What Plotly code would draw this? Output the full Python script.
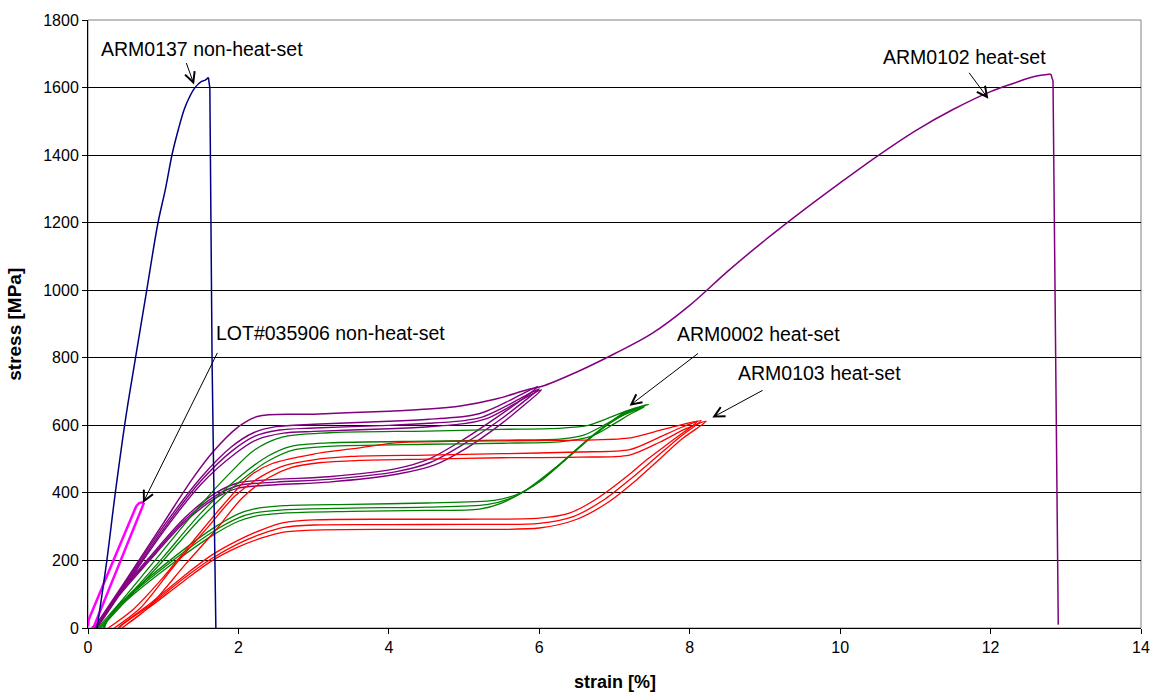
import plotly.graph_objects as go

# ---------------- data (strain [%], stress [MPa]) ----------------
# ARM0137 non-heat-set (monotonic to failure)
arm0137_x = [0.12, 0.25, 0.36, 0.50, 0.62, 0.78, 0.93, 1.03, 1.12, 1.20, 1.28, 1.35, 1.42, 1.51, 1.56, 1.60, 1.62, 1.65, 1.70]
arm0137_y = [0, 199, 395, 620, 784, 999, 1199, 1300, 1404, 1475, 1536, 1572, 1599, 1618, 1622, 1630, 1599, 784, 0]
arm0137_peak = 15  # index of the last point before fracture

# LOT#035906 non-heat-set (small loop)
lot_x = [0.00, 0.01, 0.30, 0.50, 0.64, 0.68, 0.72, 0.74, 0.60, 0.40, 0.25, 0.12, 0.08, 0.05]
lot_y = [5, 25, 180, 285, 360, 370, 372, 368, 290, 179, 96, 24, 5, 0]

# ARM0102 heat-set: final loading to failure
arm0102_final_x = [0.08, 0.50, 1.00, 1.40, 1.66, 1.99, 2.25, 3.00, 4.00, 4.53, 4.97, 5.41, 5.85, 6.07, 6.50, 7.00,
                   7.50, 8.00, 8.50, 9.00, 9.50, 10.00, 10.50, 11.00, 11.50, 12.00, 12.30, 12.57, 12.80, 12.83, 12.90]
arm0102_final_y = [0, 140, 310, 445, 521, 594, 626, 633, 642, 648, 658, 677, 706, 718, 758, 812,
                   872, 955, 1055, 1148, 1235, 1318, 1398, 1472, 1535, 1588, 1612, 1632, 1640, 1620, 10]
arm0102_peak = 28
# ARM0102 heat-set: load/unload cycles
arm0102_c1_x = [0.10, 0.50, 1.00, 1.50, 1.90, 2.20, 2.50, 3.00, 4.00, 4.53, 5.00, 5.25, 5.50, 5.75, 5.98,
                5.76, 5.41, 4.97, 4.53, 4.10, 3.20, 2.50, 2.00, 1.70, 1.28, 0.80, 0.40, 0.15, 0.12]
arm0102_c1_y = [0, 135, 300, 445, 535, 578, 596, 603, 612, 618, 626, 638, 662, 690, 715,
                675, 620, 555, 500, 472, 448, 440, 430, 400, 325, 205, 100, 15, 0]
arm0102_c2_x = [0.11, 0.50, 1.00, 1.50, 1.92, 2.22, 2.55, 3.00, 4.00, 4.53, 5.00, 5.25, 5.50, 5.75, 6.00,
                5.78, 5.45, 5.00, 4.55, 4.10, 3.20, 2.50, 2.00, 1.70, 1.28, 0.80, 0.40, 0.15, 0.13]
arm0102_c2_y = [0, 130, 292, 435, 525, 568, 586, 592, 600, 606, 614, 625, 650, 680, 708,
                668, 612, 545, 490, 463, 440, 432, 422, 392, 318, 200, 96, 12, 0]
arm0102_c3_x = [0.12, 0.50, 1.00, 1.50, 1.95, 2.25, 2.60, 3.00, 4.00, 4.53, 5.00, 5.30, 5.55, 5.80, 6.03,
                5.80, 5.48, 5.05, 4.60, 4.10, 3.20, 2.50, 2.00, 1.70, 1.28, 0.80, 0.40, 0.15, 0.14]
arm0102_c3_y = [0, 125, 285, 425, 515, 558, 577, 582, 590, 596, 605, 620, 648, 680, 705,
                660, 602, 535, 482, 455, 432, 424, 414, 385, 312, 195, 92, 10, 0]

# ARM0002 heat-set: load/unload cycles
arm0002_c1_x = [0.13, 0.50, 1.00, 1.50, 1.88, 2.20, 2.58, 3.20, 4.50, 5.50, 6.30, 6.65, 6.90, 7.15, 7.45,
                7.15, 6.80, 6.40, 6.00, 5.70, 5.40, 4.50, 3.50, 2.60, 2.20, 2.00, 1.64, 1.06, 0.53, 0.25, 0.20]
arm0002_c1_y = [0, 95, 230, 365, 457, 525, 565, 578, 583, 588, 592, 600, 620, 642, 662,
                640, 585, 508, 432, 395, 378, 370, 366, 362, 352, 338, 292, 195, 95, 22, 0]
arm0002_c2_x = [0.15, 0.50, 1.00, 1.50, 2.00, 2.40, 2.70, 3.20, 4.50, 5.50, 6.30, 6.60, 6.90, 7.15, 7.42,
                7.10, 6.72, 6.30, 5.90, 5.60, 5.30, 4.50, 3.50, 2.60, 2.20, 2.00, 1.64, 1.06, 0.53, 0.25, 0.21]
arm0002_c2_y = [0, 85, 210, 340, 445, 510, 538, 548, 553, 556, 560, 572, 605, 635, 660,
                632, 572, 490, 418, 382, 365, 358, 355, 350, 340, 326, 282, 188, 90, 20, 0]
arm0002_c3_x = [0.17, 0.50, 1.00, 1.50, 2.00, 2.40, 2.75, 3.20, 4.50, 5.50, 6.30, 6.70, 7.00, 7.20, 7.40,
                7.05, 6.65, 6.20, 5.80, 5.50, 5.20, 4.50, 3.50, 2.60, 2.20, 2.00, 1.64, 1.06, 0.53, 0.25, 0.22]
arm0002_c3_y = [0, 80, 200, 325, 430, 495, 528, 538, 544, 547, 552, 568, 605, 632, 655,
                622, 558, 472, 405, 370, 352, 348, 345, 340, 330, 316, 272, 180, 85, 18, 0]

# ARM0103 heat-set: load/unload cycles
arm0103_c1_x = [0.27, 0.60, 1.00, 1.40, 1.80, 2.17, 2.45, 3.00, 3.50, 4.09, 5.00, 6.00, 6.52, 7.18, 7.60, 7.90, 8.10,
                7.80, 7.44, 7.20, 6.78, 6.40, 6.00, 5.00, 4.00, 3.00, 2.60, 2.30, 2.00, 1.64, 1.28, 0.84, 0.45, 0.40]
arm0103_c1_y = [0, 55, 150, 258, 365, 453, 487, 515, 530, 548, 553, 555, 556, 562, 585, 602, 612,
                560, 500, 455, 385, 340, 325, 322, 322, 320, 312, 290, 260, 215, 155, 75, 10, 0]
arm0103_c2_x = [0.35, 0.70, 1.15, 1.60, 1.95, 2.30, 2.60, 3.00, 3.50, 4.50, 5.50, 6.52, 7.20, 7.55, 7.90, 8.15,
                7.85, 7.50, 7.25, 6.85, 6.45, 6.00, 5.00, 4.00, 3.00, 2.60, 2.30, 2.00, 1.64, 1.28, 0.84, 0.45, 0.42]
arm0103_c2_y = [0, 60, 185, 300, 390, 448, 480, 498, 508, 512, 516, 521, 528, 560, 595, 614,
                562, 495, 448, 378, 330, 310, 307, 306, 305, 298, 278, 250, 205, 148, 70, 8, 0]
arm0103_c3_x = [0.45, 0.80, 1.30, 1.70, 2.05, 2.40, 2.70, 3.10, 3.60, 4.50, 5.50, 6.52, 7.20, 7.60, 7.95, 8.22,
                7.90, 7.55, 7.30, 6.90, 6.50, 6.00, 5.00, 4.00, 3.00, 2.60, 2.30, 2.00, 1.64, 1.28, 0.84, 0.50, 0.46]
arm0103_c3_y = [0, 60, 190, 290, 385, 445, 475, 490, 496, 500, 504, 506, 512, 550, 590, 612,
                560, 490, 440, 370, 322, 296, 292, 292, 290, 284, 266, 240, 198, 140, 65, 8, 0]

# axes
x_ticks = [0, 2, 4, 6, 8, 10, 12, 14]
y_ticks = [0, 200, 400, 600, 800, 1000, 1200, 1400, 1600, 1800]

# labels: (text, text_x, text_y, tail_x, tail_y, tip_x, tip_y)
label_text = ["ARM0137 non-heat-set", "ARM0102 heat-set", "LOT#035906 non-heat-set",
              "ARM0002 heat-set", "ARM0103 heat-set"]
label_tx = [1.517, 11.65, 3.23, 8.92, 9.73]
label_ty = [1713, 1690, 872, 871, 755]
tail_x = [1.30, 11.70, 1.73, 8.13, 8.99]
tail_y = [1677, 1648, 819, 816, 706]
tip_x = [1.41, 11.97, 0.73, 7.20, 8.30]
tip_y = [1609, 1567, 370, 658, 623]

# ---------------- figure ----------------
NAVY, PURPLE, GREEN, RED, MAGENTA = "#000080", "#800080", "#008000", "#FF0000", "#FF00FF"
FONT = "Liberation Sans, Arial, sans-serif"

fig = go.Figure()


def add(x, y, color, width, shape="spline", smoothing=0.8):
    fig.add_trace(go.Scatter(x=x, y=y, mode="lines",
                             line=dict(color=color, width=width, shape=shape, smoothing=smoothing),
                             showlegend=False, hoverinfo="skip"))


for cx, cy in [(arm0102_c1_x, arm0102_c1_y), (arm0102_c2_x, arm0102_c2_y), (arm0102_c3_x, arm0102_c3_y)]:
    add(cx, cy, PURPLE, 1.4)
add(arm0102_final_x[:arm0102_peak + 1], arm0102_final_y[:arm0102_peak + 1], PURPLE, 1.5, smoothing=1.0)
add(arm0102_final_x[arm0102_peak:], arm0102_final_y[arm0102_peak:], PURPLE, 1.5, "linear")
for cx, cy in [(arm0002_c1_x, arm0002_c1_y), (arm0002_c2_x, arm0002_c2_y), (arm0002_c3_x, arm0002_c3_y)]:
    add(cx, cy, GREEN, 1.3)
for cx, cy in [(arm0103_c1_x, arm0103_c1_y), (arm0103_c2_x, arm0103_c2_y), (arm0103_c3_x, arm0103_c3_y)]:
    add(cx, cy, RED, 1.3)
add(lot_x, lot_y, MAGENTA, 2.5, "linear")
add(arm0137_x[:arm0137_peak + 1], arm0137_y[:arm0137_peak + 1], NAVY, 1.5, smoothing=1.0)
add(arm0137_x[arm0137_peak:], arm0137_y[arm0137_peak:], NAVY, 1.5, "linear")

annotations = []
for t, tx, ty, ax, ay, px, py in zip(label_text, label_tx, label_ty, tail_x, tail_y, tip_x, tip_y):
    annotations.append(dict(x=tx, y=ty, xref="x", yref="y", text=t, showarrow=False,
                            font=dict(family=FONT, size=19.5, color="black")))
    annotations.append(dict(x=px, y=py, ax=ax, ay=ay, xref="x", yref="y", axref="x", ayref="y",
                            text="", showarrow=True, arrowhead=5, arrowsize=2, arrowwidth=1,
                            arrowcolor="black", standoff=0, startstandoff=0))

annotations.append(dict(x=0.5, y=-0.088, xref="paper", yref="paper", text="<b>strain [%]</b>",
                        showarrow=False, yanchor="middle",
                        font=dict(family=FONT, size=18, color="black")))
annotations.append(dict(x=-0.0705, y=0.5, xref="paper", yref="paper", text="<b>stress [MPa]</b>",
                        showarrow=False, textangle=-90, xanchor="center",
                        font=dict(family=FONT, size=19, color="black")))

fig.update_layout(
    width=1162, height=697,
    margin=dict(l=88, r=17, t=13, b=69),
    paper_bgcolor="white", plot_bgcolor="white",
    font=dict(family=FONT, size=16, color="black"),
    annotations=annotations,
    shapes=[dict(type="rect", xref="paper", yref="paper", x0=0, x1=1, y0=0, y1=1,
                 line=dict(color="#808080", width=1), layer="below")],
    xaxis=dict(range=[0, 14], tickvals=x_ticks, ticktext=[str(v) for v in x_ticks],
               showgrid=False, zeroline=False, showline=True, linecolor="black", linewidth=1,
               ticks="outside", ticklen=5, tickcolor="black", tickfont=dict(size=16)),
    yaxis=dict(range=[0, 1800], tickvals=y_ticks, ticktext=[str(v) for v in y_ticks],
               showgrid=True, gridcolor="black", gridwidth=1, zeroline=False,
               showline=True, linecolor="black", linewidth=1,
               ticks="outside", ticklen=5, tickcolor="black", tickfont=dict(size=16)),
)

fig.write_html("out.html")
